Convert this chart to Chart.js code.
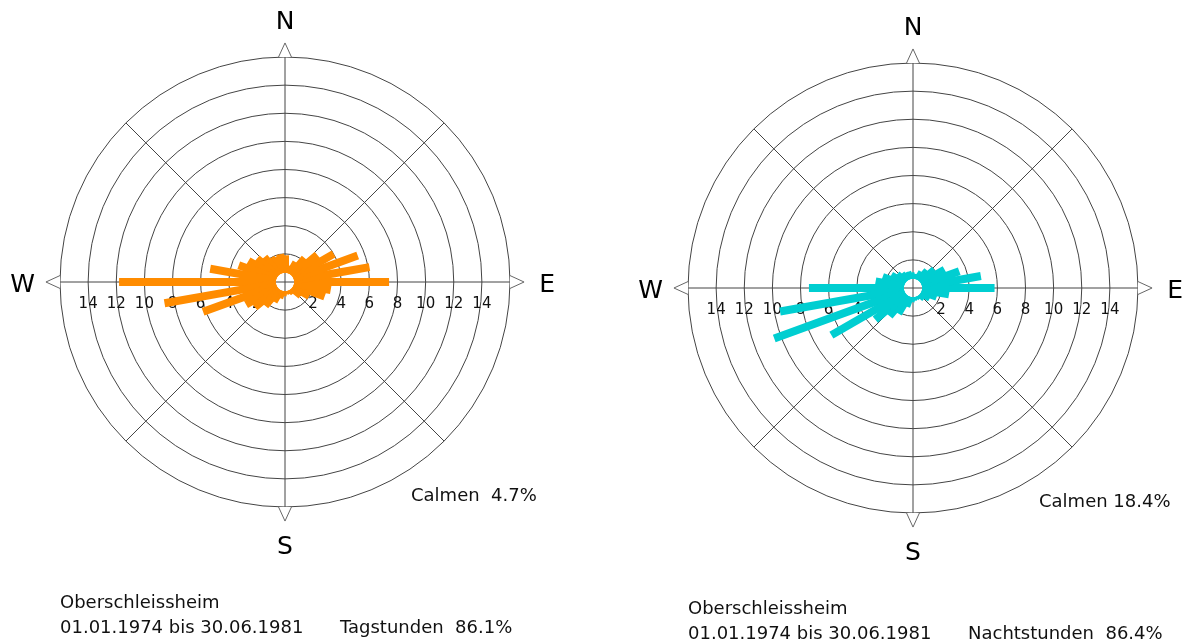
<!DOCTYPE html>
<html>
<head>
<meta charset="utf-8">
<title>Windrosen Oberschleissheim</title>
<script src="https://cdn.jsdelivr.net/npm/chart.js@4.4.1/dist/chart.umd.min.js"></script>
<style>
  body { margin: 0; background: #fff; width: 1183px; height: 641px; overflow: hidden; position: relative; }
  canvas { position: absolute; top: 0; }
  #roseTag { left: 0; }
  #roseNacht { left: 543px; }
</style>
</head>
<body>
<canvas id="roseTag" width="640" height="641"></canvas>
<canvas id="roseNacht" width="640" height="641"></canvas>
<script>
// Windrichtung in Grad (von Nord, im Uhrzeigersinn)
var richtungen = [10, 20, 30, 40, 50, 60, 70, 80, 90, 100, 110, 120,
                  130, 140, 150, 160, 170, 180, 190, 200, 210, 220, 230, 240,
                  250, 260, 270, 280, 290, 300, 310, 320, 330, 340, 350, 360];

// Haeufigkeit in % je Richtung
var tagWerte = [1.0, 1.2, 1.6, 2.2, 3.0, 4.0, 5.5, 6.1, 7.4, 3.3, 3.0, 2.0,
                1.5, 1.0, 0.9, 0.8, 0.8, 0.8, 1.0, 1.2, 1.6, 2.2, 2.8, 3.2,
                6.2, 8.7, 11.8, 5.4, 3.5, 3.0, 2.6, 2.3, 2.0, 1.9, 2.0, 1.9];

var nachtWerte = [0.8, 1.0, 1.3, 1.6, 2.0, 2.6, 3.5, 4.9, 5.8, 2.6, 1.8, 1.4,
                  1.1, 0.9, 0.8, 0.8, 0.8, 0.9, 1.0, 1.4, 2.1, 2.6, 3.5, 6.7,
                  10.5, 9.6, 7.4, 2.7, 2.3, 1.8, 1.5, 1.3, 1.2, 1.2, 1.1, 1.0];

var ringe = [2, 4, 6, 8, 10, 12, 14, 16];
var tickLabels = [2, 4, 6, 8, 10, 12, 14];
var himmelsrichtungen = ['N', 'E', 'S', 'W'];
var station = 'Oberschleissheim';
var zeitraum = '01.01.1974 bis 30.06.1981';

var pxProEinheit = 225 / 16;
var calmRadius = 0.65;
var schrift = '"DejaVu Sans", Verdana, sans-serif';

function polar(r, grad) {
    var w = grad * Math.PI / 180;
    return { x: r * Math.sin(w), y: r * Math.cos(w) };
}

function balken(werte, farbe) {
    var sets = [];
    for (var i = 0; i < richtungen.length; i++) {
        sets.push({
            data: [polar(calmRadius, richtungen[i]), polar(werte[i], richtungen[i])],
            showLine: true,
            borderColor: farbe,
            backgroundColor: farbe,
            borderWidth: 8,
            borderCapStyle: 'butt',
            borderJoinStyle: 'bevel',
            pointRadius: 0,
            tension: 0.001   // kein "fast path", sonst Spitzen bei senkrechten Balken
        });
    }
    return sets;
}

var rosePlugin = {
    id: 'windrose',
    beforeDatasetsDraw: function (chart) {
        var ctx = chart.ctx;
        var xs = chart.scales.x, ys = chart.scales.y;
        var cx = xs.getPixelForValue(0), cy = ys.getPixelForValue(0);
        var pt = function (r, g) {
            var p = polar(r, g);
            return { x: xs.getPixelForValue(p.x), y: ys.getPixelForValue(p.y) };
        };
        ctx.save();
        ctx.strokeStyle = '#444';
        ctx.lineWidth = 1;
        ringe.forEach(function (r) {
            ctx.beginPath();
            ctx.arc(cx, cy, xs.getPixelForValue(r) - cx, 0, Math.PI * 2);
            ctx.stroke();
        });
        var aussen = ringe[ringe.length - 1];
        [0, 45, 90, 135, 180, 225, 270, 315].forEach(function (g) {
            var a = pt(g % 90 === 0 ? 0 : 1, g), b = pt(aussen, g);
            ctx.beginPath();
            ctx.moveTo(a.x, a.y);
            ctx.lineTo(b.x, b.y);
            ctx.stroke();
        });
        // Dreiecke an N, E, S, W
        ctx.strokeStyle = '#666';
        [0, 90, 180, 270].forEach(function (g) {
            var spitze = pt(aussen + 1, g);
            var l = pt(aussen, g - 1.65), r = pt(aussen, g + 1.65);
            ctx.beginPath();
            ctx.moveTo(l.x, l.y);
            ctx.lineTo(spitze.x, spitze.y);
            ctx.lineTo(r.x, r.y);
            ctx.fillStyle = '#fff';
            ctx.fill();
            ctx.stroke();
        });
        ctx.fillStyle = '#111';
        ctx.font = '15px ' + schrift;
        ctx.textAlign = 'center';
        ctx.textBaseline = 'middle';
        tickLabels.forEach(function (v) {
            var d = xs.getPixelForValue(v) - cx;
            ctx.fillText(String(v), cx + d, cy + 22);
            ctx.fillText(String(v), cx - d, cy + 22);
        });
        ctx.font = '25px ' + schrift;
        ctx.fillStyle = '#000';
        himmelsrichtungen.forEach(function (n, i) {
            var p = pt(18.65, i * 90);
            ctx.fillText(n, p.x, p.y + 3);
        });
        ctx.restore();
    },
    afterDraw: function (chart) {
        var o = chart.options.plugins.windrose;
        var ctx = chart.ctx;
        var cx = chart.scales.x.getPixelForValue(0), cy = chart.scales.y.getPixelForValue(0);
        ctx.save();
        ctx.fillStyle = '#111';
        ctx.font = '18px ' + schrift;
        ctx.textAlign = 'left';
        ctx.textBaseline = 'middle';
        ctx.fillText(o.calmen, cx + 126, cy + 214);
        ctx.fillText(station, cx - 225, cy + 321);
        ctx.fillText(zeitraum, cx - 225, cy + 346);
        ctx.fillText(o.stunden, cx + 55, cy + 346);
        ctx.restore();
    }
};

function showWindrose(id, werte, farbe, mitteX, mitteY, calmen, stunden) {
    var canvas = document.getElementById(id);
    var k = pxProEinheit;
    new Chart(canvas, {
        type: 'scatter',
        data: { datasets: balken(werte, farbe) },
        options: {
            responsive: false,
            animation: false,
            layout: { padding: 0 },
            scales: {
                x: { type: 'linear', display: false, bounds: 'data',
                     min: -mitteX / k, max: (canvas.width - mitteX) / k },
                y: { type: 'linear', display: false, bounds: 'data',
                     min: -(canvas.height - mitteY) / k, max: mitteY / k }
            },
            plugins: {
                legend: { display: false },
                tooltip: { enabled: false },
                windrose: { calmen: calmen, stunden: stunden }
            }
        },
        plugins: [rosePlugin]
    });
}

showWindrose('roseTag', tagWerte, '#ff8c00', 285, 282, 'Calmen  4.7%', 'Tagstunden  86.1%');
showWindrose('roseNacht', nachtWerte, '#00ced1', 370, 288, 'Calmen 18.4%', 'Nachtstunden  86.4%');
</script>
</body>
</html>
